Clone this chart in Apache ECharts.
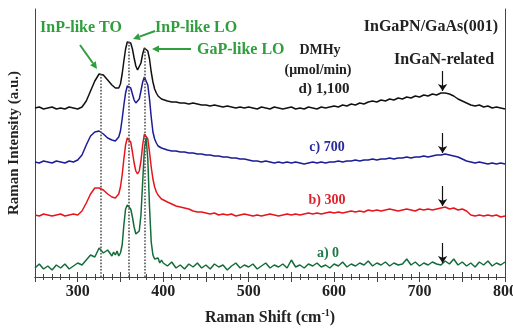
<!DOCTYPE html>
<html>
<head>
<meta charset="utf-8">
<script src="https://cdn.jsdelivr.net/npm/echarts@6/dist/echarts.min.js"></script>
<style>
  html, body { margin: 0; padding: 0; background: #fff; }
  #chart { width: 513px; height: 329px; }
</style>
</head>
<body>
<div id="chart"></div>
<script>
// Raman shift (cm-1), denser around the phonon peaks
const ramanShift = [
  250, 255, 260, 265, 270, 275, 280, 285, 290, 295, 300, 305, 310, 315, 320, 325, 330, 335, 340,
  342, 344, 346, 348, 350, 352, 354, 356, 358, 360, 362, 364, 366, 368, 370, 372, 374, 376, 378, 380,
  382, 384, 386, 388, 390, 392, 394, 396, 398,
  400, 405, 410, 415, 420, 425, 430, 435, 440, 445,
  450, 455, 460, 465, 470, 475, 480, 485, 490, 495,
  500, 505, 510, 515, 520, 525, 530, 535, 540, 545,
  550, 555, 560, 565, 570, 575, 580, 585, 590, 595,
  600, 605, 610, 615, 620, 625, 630, 635, 640, 645,
  650, 655, 660, 665, 670, 675, 680, 685, 690, 695,
  700, 705, 710, 715, 720, 725, 730, 735, 740, 745,
  750, 755, 760, 765, 770, 775, 780, 785, 790, 795,
  800
]

// offset intensities (a.u.) per DMHy flow
const spectrumD = [ // d) 1,100
  169, 170, 168, 169, 170, 168, 169, 168, 170, 169, 168, 170, 176, 186, 196, 203, 202, 197, 192,
  190, 189, 188, 189, 193, 203, 216, 228, 235, 236, 234, 228, 219, 211, 207, 208, 214, 223, 229, 230,
  226, 218, 205, 195, 188, 184, 181, 179, 178,
  177, 176, 175, 175, 174, 174, 173, 174, 173, 172,
  172, 171, 172, 171, 170, 171, 170, 169, 170, 169,
  170, 169, 168, 170, 169, 168, 170, 169, 168, 169,
  170, 168, 169, 168, 170, 169, 168, 170, 169, 170,
  171, 170, 172, 171, 173, 172, 174, 173, 175, 176,
  175, 177, 176, 178, 177, 179, 178, 180, 179, 181,
  180, 182, 181, 183, 182, 184, 184, 183, 181, 178,
  176, 174, 172, 171, 172, 170, 171, 169, 170, 169,
  168
]
const spectrumC = [ // c) 700
  115, 114, 116, 115, 114, 116, 115, 114, 116, 115, 117, 122, 132, 141, 145, 146, 143, 139, 137,
  136, 136, 137, 140, 146, 158, 172, 184, 191, 192, 189, 183, 177, 174, 174, 178, 186, 195, 200, 199,
  192, 178, 160, 145, 138, 134, 131, 130, 129,
  128, 127, 126, 126, 125, 125, 124, 124, 123, 123,
  122, 122, 121, 121, 120, 120, 119, 119, 118, 118,
  117, 116, 116, 115, 116, 115, 114, 115, 114, 115,
  114, 115, 114, 113, 114, 115, 114, 115, 114, 115,
  115, 116, 115, 116, 116, 117, 116, 117, 117, 118,
  117, 118, 118, 119, 118, 119, 119, 120, 119, 120,
  120, 121, 120, 121, 122, 122, 123, 122, 121, 120,
  118, 116, 115, 114, 115, 114, 113, 114, 113, 114,
  113
]
const spectrumB = [ // b) 300
  62, 61, 63, 62, 61, 62, 63, 61, 62, 63, 62, 66, 74, 83, 89, 89, 87, 83, 80,
  79, 79, 80, 83, 90, 102, 118, 132, 139, 139, 135, 125, 114, 106, 103, 106, 116, 132, 143, 145,
  138, 125, 110, 98, 90, 85, 82, 80, 78,
  77, 75, 73, 71, 70, 69, 68, 66, 65, 65,
  64, 63, 64, 62, 63, 62, 63, 61, 62, 63,
  62, 61, 62, 61, 62, 63, 62, 61, 62, 63,
  62, 63, 62, 63, 64, 63, 64, 63, 64, 65,
  64, 65, 64, 65, 66, 65, 66, 65, 67, 66,
  67, 66, 67, 68, 67, 66, 67, 68, 67, 66,
  68, 67, 68, 67, 68, 69, 70, 68, 69, 67,
  68, 66, 62, 61, 62, 61, 62, 61, 62, 60,
  61
]
const spectrumA = [ // a) 0
  9, 13, 8, 11, 7, 12, 9, 13, 8, 11, 14, 12, 17, 22, 20, 29, 24, 27, 21,
  25, 22, 26, 21, 24, 32, 52, 68, 72, 71, 68, 60, 50, 43, 41, 46, 62, 95, 128, 139,
  118, 70, 35, 22, 18, 16, 19, 14, 17,
  14, 11, 15, 9, 12, 8, 13, 10, 14, 9,
  12, 8, 13, 10, 12, 7, 11, 14, 9, 12,
  10, 13, 8, 11, 14, 9, 12, 10, 13, 9,
  17, 10, 12, 9, 13, 11, 14, 10, 12, 9,
  13, 11, 15, 10, 13, 11, 14, 12, 16, 11,
  14, 12, 15, 11, 14, 12, 13, 18, 12, 15,
  11, 14, 12, 15, 13, 12, 16, 13, 18, 12,
  15, 11, 14, 10, 15, 12, 16, 11, 14, 12,
  15
]

const peakShifts = [327, 360, 379] // InP-like TO, InP-like LO, GaP-like LO
const ingaNShift = 727

const serif = '"Liberation Serif", "Times New Roman", serif'
const annGreen = '#2f9e3c'

function pairs(ys) {
  return ramanShift.map((x, i) => [x, ys[i]])
}
function valueAt(ys, x) {
  let best = 0
  ramanShift.forEach((s, i) => {
    if (Math.abs(s - x) < Math.abs(ramanShift[best] - x)) best = i
  })
  return ys[best]
}
function arrowLine(ys) {
  const v = valueAt(ys, ingaNShift)
  return [{ coord: [ingaNShift, v + 22] }, { coord: [ingaNShift, v + 2] }]
}
function spectrum(name, ys, color) {
  return {
    name: name,
    type: 'line',
    data: pairs(ys),
    symbol: 'none',
    lineStyle: { color: color, width: 1.5 },
    animation: false,
    silent: true
  }
}
function text(str, x, y, color, size, align) {
  return {
    type: 'text',
    x: x,
    y: y,
    style: {
      text: str,
      font: 'bold ' + size + 'px ' + serif,
      fill: color,
      align: align || 'center',
      verticalAlign: 'middle'
    }
  }
}
function arrow(x1, y1, x2, y2) {
  const a = Math.atan2(y2 - y1, x2 - x1)
  const len = 7, w = 3.5
  const bx = x2 - len * Math.cos(a), by = y2 - len * Math.sin(a)
  return [
    { type: 'line', shape: { x1: x1, y1: y1, x2: bx, y2: by }, style: { stroke: annGreen, lineWidth: 2 } },
    {
      type: 'polygon',
      shape: { points: [[x2, y2], [bx - w * Math.sin(a), by + w * Math.cos(a)], [bx + w * Math.sin(a), by - w * Math.cos(a)]] },
      style: { fill: annGreen }
    }
  ]
}

const chart = echarts.init(document.getElementById('chart'))

const tickAxis = {
  type: 'value',
  min: 250,
  max: 800,
  interval: 50,
  axisLine: { lineStyle: { color: '#444', width: 1 } },
  axisTick: { inside: true, length: 5, lineStyle: { color: '#444' } },
  minorTick: { show: true, splitNumber: 5, length: 3, lineStyle: { color: '#444' } },
  splitLine: { show: false }
}

chart.setOption({
  backgroundColor: '#fff',
  grid: { left: 35, right: 8, top: 9, bottom: 52, containLabel: false, outerBoundsMode: 'none' },
  xAxis: [
    Object.assign({}, tickAxis, {
      position: 'bottom',
      axisLabel: {
        formatter: v => (v % 100 === 0 ? String(v) : ''),
        fontFamily: serif,
        fontWeight: 'bold',
        fontSize: 16,
        color: '#222',
        margin: 7
      },
      name: 'Raman Shift (cm{sup|-1})',
      nameLocation: 'middle',
      nameGap: 31,
      nameTextStyle: {
        fontFamily: serif,
        fontWeight: 'bold',
        fontSize: 16,
        color: '#222',
        rich: {
          sup: { fontFamily: serif, fontWeight: 'bold', fontSize: 10, color: '#222', padding: [0, 0, 9, 0] }
        }
      }
    }),
    Object.assign({}, tickAxis, { position: 'top', axisLabel: { show: false } })
  ],
  yAxis: [
    {
      type: 'value',
      min: 0,
      max: 268,
      axisLine: { show: true, lineStyle: { color: '#444', width: 1 } },
      axisTick: { show: false },
      axisLabel: { show: false },
      splitLine: { show: false },
      name: 'Raman Intensity (a.u.)',
      nameLocation: 'middle',
      nameGap: 13,
      nameTextStyle: { fontFamily: serif, fontWeight: 'bold', fontSize: 15, color: '#222' }
    },
    {
      type: 'value',
      min: 0,
      max: 268,
      position: 'right',
      axisLine: { show: true, lineStyle: { color: '#444', width: 1 } },
      axisTick: { show: false },
      axisLabel: { show: false },
      splitLine: { show: false }
    }
  ],
  series: [
    {
      type: 'line',
      data: [],
      silent: true,
      markLine: {
        silent: true,
        animation: false,
        symbol: 'none',
        label: { show: false },
        lineStyle: { color: '#555', type: 'dotted', width: 1.6 },
        data: peakShifts.map(x => [{ coord: [x, 0] }, { coord: [x, valueAt(spectrumD, x)] }])
      }
    },
    {
      type: 'line',
      data: [],
      silent: true,
      markLine: {
        silent: true,
        animation: false,
        symbol: ['none', 'arrow'],
        symbolSize: 7,
        label: { show: false },
        lineStyle: { color: '#111', type: 'solid', width: 1.2 },
        data: [spectrumD, spectrumC, spectrumB, spectrumA].map(arrowLine)
      }
    },
    spectrum('d) 1,100', spectrumD, '#111111'),
    spectrum('c) 700', spectrumC, '#1c1c96'),
    spectrum('b) 300', spectrumB, '#e8141c'),
    spectrum('a) 0', spectrumA, '#146c3a')
  ],
  graphic: [
    text('InP-like TO', 40, 28, annGreen, 16, 'left'),
    text('InP-like LO', 155, 28, annGreen, 16, 'left'),
    text('GaP-like LO', 197, 50, annGreen, 16, 'left'),
    ...arrow(80, 45, 97, 69),
    ...arrow(155, 31, 133, 39),
    ...arrow(191, 49, 152, 49),
    text('InGaPN/GaAs(001)', 498, 27, '#222', 16, 'right'),
    text('DMHy', 320, 50, '#222', 14),
    text('(\u03bcmol/min)', 318, 70, '#222', 14),
    text('d) 1,100', 324, 89, '#222', 15),
    text('InGaN-related', 444, 60, '#222', 16),
    text('c) 700', 327, 147, '#2a2aa0', 14),
    text('b) 300', 327, 200, '#e0202a', 14),
    text('a) 0', 328, 253, '#1e7a44', 14)
  ]
})
</script>
</body>
</html>
